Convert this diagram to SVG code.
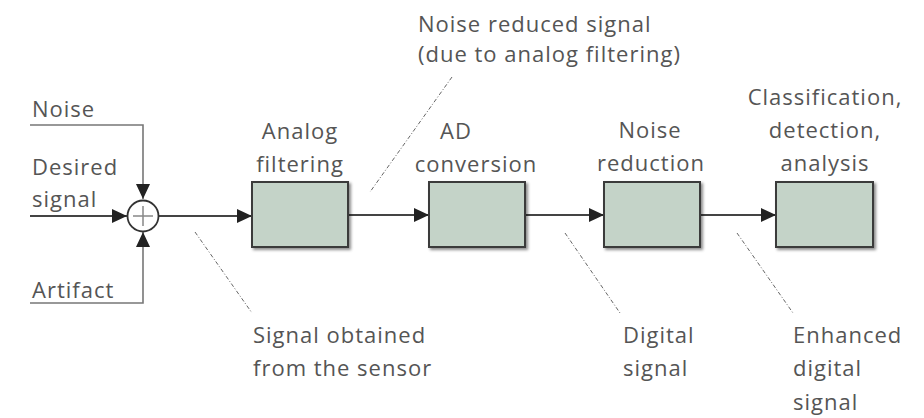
<svg xmlns="http://www.w3.org/2000/svg" width="924" height="418" viewBox="0 0 924 418">
<style>
  text { font-family: "Open Sans", "Liberation Sans", sans-serif; font-size: 22px; fill: #555; letter-spacing: 1px; }
  .c { text-anchor: middle; }
  .box { fill: #c4d3c8; stroke: #3a3a3a; stroke-width: 2; filter: url(#sh); }
  .wire { fill: none; stroke: #444; stroke-width: 2.2; }
  .thin { fill: none; stroke: #777; stroke-width: 1.6; }
  .lead { fill: none; stroke: #666; stroke-width: 1; stroke-dasharray: 4 2 1 2; }
</style>
<defs>
  <marker id="ah" markerUnits="userSpaceOnUse" markerWidth="16" markerHeight="14" refX="15" refY="7" orient="auto">
    <path d="M0,0 L15,7 L0,14 z" fill="#222"/>
  </marker>
  <filter id="sh" x="-10%" y="-10%" width="130%" height="130%">
    <feDropShadow dx="2" dy="2" stdDeviation="1.8" flood-color="#000" flood-opacity="0.45"/>
  </filter>
</defs>
<rect width="924" height="418" fill="#fff"/>

<g id="connectors">
  <path class="thin" d="M30,125 H143 V199" marker-end="url(#ah)"/>
  <path class="thin" d="M30,303 H143 V232" marker-end="url(#ah)"/>
  <path class="wire" d="M30,216 H127" marker-end="url(#ah)"/>
  <path class="wire" d="M159,216 H252" marker-end="url(#ah)"/>
  <path class="wire" d="M348,215 H429" marker-end="url(#ah)"/>
  <path class="wire" d="M525,215 H604" marker-end="url(#ah)"/>
  <path class="wire" d="M700,215 H776" marker-end="url(#ah)"/>
  <path class="lead" d="M452,77 L370,192"/>
  <path class="lead" d="M195,232 L252,313"/>
  <path class="lead" d="M565,233 L620,313"/>
  <path class="lead" d="M737,233 L793,313"/>
</g>

<g id="input-noise"><text x="32" y="117">Noise</text></g>
<g id="input-desired"><text x="32" y="175">Desired</text><text x="32" y="207">signal</text></g>
<g id="input-artifact"><text x="32" y="298">Artifact</text></g>

<g id="sum">
  <circle cx="143" cy="216" r="15.5" fill="#fff" stroke="#333" stroke-width="1.8"/>
  <path d="M133,216 H153 M143,206 V226" stroke="#888" stroke-width="1.5"/>
</g>

<g id="analog-filtering">
  <rect class="box" x="252" y="182" width="96" height="65"/>
  <text class="c" x="300" y="139">Analog</text>
  <text class="c" x="300" y="172">filtering</text>
</g>
<g id="ad-conversion">
  <rect class="box" x="429" y="182" width="96" height="65"/>
  <text class="c" x="456" y="139">AD</text>
  <text class="c" x="476" y="172">conversion</text>
</g>
<g id="noise-reduction">
  <rect class="box" x="604" y="182" width="96" height="65"/>
  <text class="c" x="650" y="138">Noise</text>
  <text class="c" x="651" y="171">reduction</text>
</g>
<g id="classification">
  <rect class="box" x="776" y="182" width="97" height="65"/>
  <text class="c" x="825" y="105">Classification,</text>
  <text class="c" x="825" y="138">detection,</text>
  <text class="c" x="825" y="171">analysis</text>
</g>

<g id="label-noise-reduced">
  <text x="418" y="32">Noise reduced signal</text>
  <text x="418" y="62">(due to analog filtering)</text>
</g>
<g id="label-sensor">
  <text x="253" y="343">Signal obtained</text>
  <text x="253" y="376">from the sensor</text>
</g>
<g id="label-digital">
  <text x="623" y="343">Digital</text>
  <text x="623" y="376">signal</text>
</g>
<g id="label-enhanced">
  <text x="793" y="343">Enhanced</text>
  <text x="793" y="376">digital</text>
  <text x="793" y="410">signal</text>
</g>
</svg>
